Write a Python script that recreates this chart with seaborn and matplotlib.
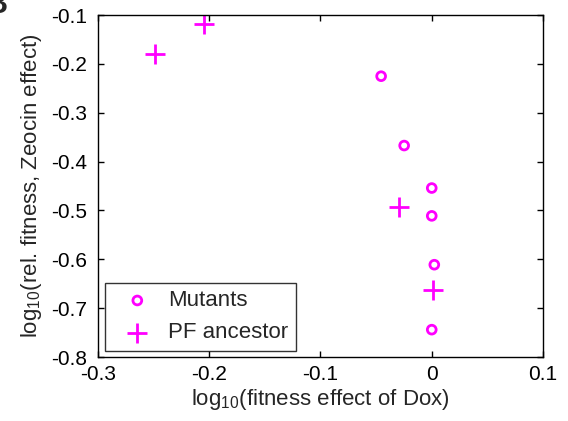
import matplotlib
matplotlib.use("Agg")
import matplotlib.pyplot as plt
import seaborn as sns
import pandas as pd

mut_x = [-0.0455, -0.0248, 0.0, 0.0, 0.0023, 0.0]
mut_y = [-0.225, -0.367, -0.454, -0.511, -0.611, -0.744]
anc_x = [-0.2486, -0.2045, -0.0291, 0.0009]
anc_y = [-0.180, -0.118, -0.493, -0.662]
xticks = [-0.3, -0.2, -0.1, 0, 0.1]
yticks = [-0.8, -0.7, -0.6, -0.5, -0.4, -0.3, -0.2, -0.1]

sns.set_theme(style="white")
plt.rcParams['font.family'] = ['Liberation Sans', 'DejaVu Sans']
plt.rcParams['mathtext.fontset'] = 'custom'
plt.rcParams['mathtext.rm'] = 'Liberation Sans'
plt.rcParams['mathtext.it'] = 'Liberation Sans'

df = pd.concat([
    pd.DataFrame({"x": mut_x, "y": mut_y, "group": "Mutants"}),
    pd.DataFrame({"x": anc_x, "y": anc_y, "group": "PF ancestor"}),
])

fig = plt.figure(figsize=(5.68, 4.21), dpi=100)
ax = fig.add_axes([0.1725, 0.152, 0.7835, 0.812])
mag = "#FF00FF"
sns.scatterplot(data=df[df.group == "Mutants"], x="x", y="y", ax=ax,
                marker="o", s=40, facecolor="none", edgecolor=mag,
                linewidth=2, label="Mutants")
sns.scatterplot(data=df[df.group == "PF ancestor"], x="x", y="y", ax=ax,
                marker="+", s=220, color=mag, linewidth=2,
                label="PF ancestor")

ax.set_xlim(-0.3, 0.1)
ax.set_ylim(-0.8, -0.1)
ax.set_xticks(xticks)
ax.set_xticklabels(["-0.3", "-0.2", "-0.1", "0", "0.1"])
ax.set_yticks(yticks)
ax.set_yticklabels([f"{t:.1f}" for t in yticks])
ax.tick_params(direction="in", length=4, width=1, colors="black",
               labelsize=15, top=True, right=True, left=True, bottom=True)
ax.tick_params(axis="y", pad=8)
ax.tick_params(axis="x", pad=6)
for s in ax.spines.values():
    s.set_visible(True)
    s.set_color("black")
    s.set_linewidth(1)
ax.set_xlabel(r"log$_{10}$(fitness effect of Dox)", fontsize=16, labelpad=2)
ax.set_ylabel(r"log$_{10}$(rel. fitness, Zeocin effect)", fontsize=16, labelpad=5)

leg = ax.legend(loc="lower left", bbox_to_anchor=(0.016, 0.017), fontsize=16,
                frameon=True, fancybox=False, borderaxespad=0,
                handletextpad=0.3, borderpad=0.35, labelspacing=0.5,
                handlelength=2.2)
leg.get_frame().set_edgecolor("black")
leg.get_frame().set_linewidth(1)

fig.text(0.014, 1 - 13 / 421, "B", fontsize=22, fontweight="bold",
         ha="right", va="baseline")

fig.savefig("out.png", dpi=100)
